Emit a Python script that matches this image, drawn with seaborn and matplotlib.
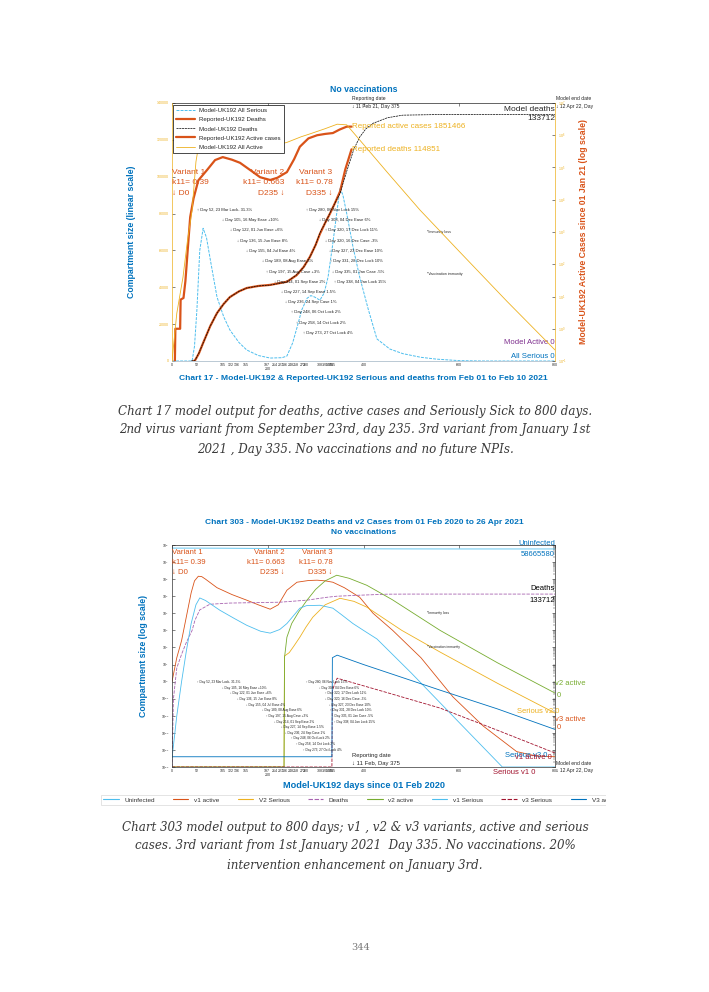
import numpy as np
import pandas as pd
import seaborn as sns
import matplotlib.pyplot as plt
from matplotlib.ticker import LogLocator, NullLocator
from matplotlib.patches import Rectangle
import matplotlib.transforms as mtrans

# ---------------- Chart 17 data (days since 01 Feb 2020) ----------------
serious_day = [0, 42, 47, 52, 58, 65, 72, 80, 94, 108, 121, 140, 156, 180, 205, 230, 240, 252, 262, 271,
               282, 290, 298, 309, 318, 326, 335, 344, 351, 357, 365, 378, 392, 410, 428, 455, 482, 520, 553, 600,
               650, 800]
serious_val = [0, 0, 8000, 27700, 60000, 72000, 67000, 55000, 34700, 24000, 16800, 10000, 6000, 3000, 1600, 1800,
               2700, 9800, 19000, 27700, 34000, 35500, 34700, 33000, 37000, 45600, 62000, 80000, 94000, 90000,
               80000, 62000, 45600, 28000, 12000, 6500, 4000, 2000, 1000, 200, 0, 0]

rep_death_day = [45, 48, 56, 65, 80, 94, 108, 121, 140, 156, 180, 205, 240, 260, 275, 288, 300, 309, 320, 330,
                 340, 351, 362, 375]
rep_death_val = [0, 300, 4000, 9800, 19000, 26000, 31000, 34700, 37800, 39600, 40700, 41300, 43000, 46500, 51000,
                 56500, 63000, 69000, 75000, 80000, 85500, 92000, 104000, 114851]

model_death_day = [40, 48, 56, 65, 80, 94, 108, 121, 140, 156, 180, 205, 240, 260, 275, 288, 300, 309, 320, 330,
                   340, 351, 365, 380, 392, 405, 420, 450, 482, 550, 800]
model_death_val = [0, 400, 4200, 9800, 19000, 26000, 31000, 34700, 37800, 39600, 40700, 41200, 42900, 46700, 51000,
                   56400, 63000, 69500, 75000, 80300, 85500, 91000, 103000, 115000, 121500, 126000, 129000, 132000,
                   133400, 133700, 133712]

rep_active_day = [6, 7, 17, 18, 24, 28, 33, 38, 45, 55, 73, 90, 106, 125, 142, 165, 184, 205, 220, 240, 255,
                  267, 285, 303, 320, 336, 350, 365, 375]
rep_active_val = [0.1, 1, 1, 8, 9, 30, 300, 2900, 11000, 40000, 83000, 170000, 210000, 175000, 140000, 80000, 50000,
                  41000, 48000, 72000, 180000, 440000, 800000, 1000000, 1100000, 1170000, 1500000, 1850000, 1851466]

model_active_day = [0, 10, 23, 32, 42, 50, 60, 80, 110, 160, 205, 240, 270, 288, 320, 345, 365, 400, 450, 518,
                    600, 700, 800]
model_active_val = [0.1, 3, 40, 500, 4800, 150000, 1200000, 2000000, 1600000, 700000, 450000, 600000, 900000,
                    1100000, 1600000, 2200000, 2100000, 520000, 70000, 4800, 250, 7, 0.22]

# ---------------- Chart 303 data (log10 of compartment size) ----------------
uninf_day = [0, 100, 200, 300, 400, 500, 600, 800]
uninf_log = [7.82, 7.815, 7.80, 7.79, 7.775, 7.77, 7.768, 7.768]

v1a_day = [0, 10, 20, 30, 40, 47, 55, 62, 70, 94, 125, 156, 180, 205, 222, 240, 261, 285, 303, 320,
           336, 360, 392, 420, 461, 520, 587, 650, 720, 760, 800]
v1a_log = [0, 1.4, 2.4, 3.8, 5.2, 5.9, 6.17, 6.15, 6.0, 5.5, 5.1, 4.77, 4.5, 4.24, 4.5, 5.35, 5.82, 5.92, 5.94, 5.9,
           5.82, 5.5, 4.94, 4.0, 3.0, 1.4, -0.9, -2.6, -4.1, -4.35, -4.4]

v1s_day = [0, 10, 20, 30, 40, 50, 58, 70, 100, 130, 156, 185, 205, 225, 240, 255, 267, 281, 309, 336,
           355, 378, 400, 428, 500, 600, 690, 800]
v1s_log = [-4.5, -2.0, 0.0, 1.8, 3.4, 4.5, 4.9, 4.75, 4.18, 3.7, 3.3, 2.95, 2.84, 3.05, 3.4, 3.9, 4.3, 4.45, 4.47,
           4.3, 3.9, 3.4, 3.0, 2.5, 0.5, -2.4, -5, -5]

deaths_day = [0, 3, 10, 20, 30, 42, 48, 58, 79, 121, 225, 282, 324, 344, 392, 449, 500, 800]
deaths_log = [-5, -1, 0.8, 1.6, 2.3, 3.0, 3.6, 4.2, 4.53, 4.6, 4.65, 4.77, 4.94, 5.0, 5.06, 5.12, 5.126, 5.126]

v2a_day = [0, 234, 235, 240, 250, 265, 282, 300, 320, 344, 370, 407, 460, 560, 680, 800]
v2a_log = [-5, -5, 1.4, 2.6, 3.4, 4.1, 4.77, 5.4, 5.9, 6.23, 6.05, 5.64, 4.8, 3.0, 1.1, -0.67]

v2s_day = [0, 234, 235, 245, 255, 267, 280, 294, 320, 351, 380, 407, 480, 560, 680, 800]
v2s_log = [-5, -5, 1.5, 1.7, 2.1, 2.6, 3.2, 3.77, 4.5, 4.88, 4.7, 4.36, 3.0, 1.73, -0.1, -1.84]

v3a_day = [0, 334, 335, 345, 400, 480, 560, 680, 800]
v3a_log = [-4.4, -4.4, 1.4, 1.55, 1.0, 0.25, -0.5, -1.6, -2.8]

v3s_day = [0, 334, 335, 345, 450, 560, 680, 800]
v3s_log = [-5, -5, -0.5, 0.2, -0.65, -1.55, -2.85, -4.18]

# ---------------- NPI annotations (shared by both charts) ----------------
npi_day = [52, 105, 122, 136, 155, 189, 197, 214, 227, 236, 248, 258, 273,
           280, 308, 320, 320, 327, 331, 335, 338]
npi_text = ["\u2191 Day 52, 23 Mar Lock- 31.3%", "\u2193 Day 105, 16 May Ease +10%",
            "\u2193 Day 122, 01 Jun Ease +6%", "\u2193 Day 136, 15 Jun Ease 8%",
            "\u2193 Day 155, 04 Jul Ease 4%", "\u2193 Day 189, 08 Aug Ease 6%",
            "\u2191 Day 197, 15 Aug Case +3%", "\u2193 Day 214, 01 Sep Ease 2%",
            "\u2193 Day 227, 14 Sep Ease 1.5%", "\u2193 Day 236, 24 Sep Case 1%",
            "\u2191 Day 248, 06 Oct Lock 2%", "\u2191 Day 258, 14 Oct Lock 2%",
            "\u2191 Day 273, 27 Oct Lock 4%", "\u2191 Day 280, 06 Nov Lock 15%",
            "\u2193 Day 308, 04 Dec Ease 6%", "\u2191 Day 320, 17 Dec Lock 11%",
            "\u2193 Day 320, 16 Dec Case -3%", "\u2193 Day 327, 23 Dec Ease 10%",
            "\u2191 Day 331, 28 Dec Lock 10%", "\u2193 Day 335, 01 Jan Case -5%",
            "\u2191 Day 338, 04 Jan Lock 15%"]
npi_row = [0, 1, 2, 3, 4, 5, 6, 7, 8, 9, 10, 11, 12, 0, 1, 2, 3, 4, 5, 6, 7]
tick_days = [0, 52, 105, 122, 136, 155, 197, 214, 227, 236, 248, 258, 273, 280, 308, 320, 327, 331, 335,
             400, 600, 800]

BLUE, ORANGE, YELLOW = "#0072BD", "#D95319", "#EDB120"
PURPLE, GREEN, CYAN, CRIMSON = "#7E2F8E", "#77AC30", "#4DBEEE", "#A2142F"

sns.set_style("white")
plt.rcParams["font.family"] = ["Liberation Sans", "DejaVu Sans"]
plt.rcParams["axes.linewidth"] = 0.5
plt.rcParams["mathtext.default"] = "regular"

W, H = 709, 992
fig = plt.figure(figsize=(W / 100, H / 100), dpi=100)


def box(l, t, r, b):
    return [l / W, 1 - b / H, (r - l) / W, (b - t) / H]


def draw(ax, x, y, **kw):
    sns.lineplot(x=x, y=y, ax=ax, estimator=None, legend=False, **kw)
    return ax.get_lines()[-1]


def xaxis_style(ax, lab_size):
    ax.set_xlim(0, 800)
    ax.set_xticks(tick_days, [str(d) for d in tick_days])
    ax.set_xticks([200], ["200"], minor=True)
    ax.tick_params(axis="x", which="major", direction="in", length=2.5, width=0.4,
                   labelsize=lab_size, pad=1.2, top=False)
    ax.tick_params(axis="x", which="minor", direction="in", length=2.5, width=0.4,
                   labelsize=lab_size, pad=4.5, top=False)
    sec = ax.secondary_xaxis("top")
    sec.set_xticks([0, 200, 400, 600, 800], ["", "", "", "", ""])
    sec.tick_params(direction="in", length=2.5, width=0.4)
    sec.spines["top"].set_linewidth(0.5)


def npi_labels(ax, y_top, step, size):
    tr = mtrans.blended_transform_factory(ax.transData, ax.transAxes)
    for d, t, r in zip(npi_day, npi_text, npi_row):
        ax.text(d, y_top - r * step, t, transform=tr, fontsize=size, ha="left", va="center",
                color="#222222", zorder=8)


def variant_labels(ax, y0, dy, size):
    tr = mtrans.blended_transform_factory(ax.transData, ax.transAxes)
    for i, (a, b, c) in enumerate([("Variant 1", "Variant 2", "Variant 3"),
                                   ("k11= 0.39", "k11= 0.663", "k11= 0.78"),
                                   ("\u2193 D0", "D235 \u2193", "D335 \u2193")]):
        y = y0 - i * dy
        ax.text(0, y, a, transform=tr, fontsize=size, color=ORANGE, ha="left", va="center")
        ax.text(235, y, b, transform=tr, fontsize=size, color=ORANGE, ha="right", va="center")
        ax.text(335, y, c, transform=tr, fontsize=size, color=ORANGE, ha="right", va="center")


# ======================= Chart 17 =======================
ax1 = fig.add_axes(box(172, 103, 555, 361))
ax1r = ax1.twinx()

h_serious = draw(ax1, serious_day, serious_val, color=CYAN, linewidth=0.7, linestyle=(0, (3, 1.2)))
h_rdeath = draw(ax1, rep_death_day, rep_death_val, color=ORANGE, linewidth=1.6)
h_mdeath = draw(ax1, model_death_day, model_death_val, color="black", linewidth=0.5, linestyle=(0, (3, 1)))
ax1r.set_yscale("log")
h_ractive = draw(ax1r, rep_active_day, rep_active_val, color=ORANGE, linewidth=1.6)
h_mactive = draw(ax1r, model_active_day, model_active_val, color=YELLOW, linewidth=0.6)

ax1.set_ylim(0, 140000)
ax1.set_yticks(range(0, 140001, 20000))
ax1r.set_ylim(0.1, 1e7)
ax1r.yaxis.set_major_locator(LogLocator(base=10, numticks=12))
ax1r.yaxis.set_minor_locator(NullLocator())
xaxis_style(ax1, 2.6)
ax1.tick_params(axis="y", direction="in", length=2.5, width=0.4, labelsize=2.6, labelcolor=YELLOW, pad=2)
ax1r.tick_params(axis="y", direction="in", length=2.5, width=0.4, labelsize=2.6, labelcolor=YELLOW, pad=2)
ax1.spines["left"].set_color(YELLOW)
ax1.spines["bottom"].set_color("#9fb4c4")
ax1.spines["right"].set_visible(False)
ax1.spines["top"].set_visible(False)
for s in ["left", "top", "bottom"]:
    ax1r.spines[s].set_visible(False)
ax1r.spines["right"].set_color(YELLOW)

ax1.set_xlabel("Chart 17 - Model-UK192 & Reported-UK192 Serious and deaths from Feb 01 to Feb 10 2021",
               fontsize=6.1, fontweight="bold", color=BLUE)
ax1.xaxis.set_label_coords(0.5, -0.056)
ax1.set_ylabel("Compartment size (linear scale)", fontsize=6.3, fontweight="bold", color=BLUE)
ax1.yaxis.set_label_coords(-0.095, 0.5)
ax1r.set_ylabel("Model-UK192 Active Cases since 01 Jan 21 (log scale)", fontsize=6.3,
                fontweight="bold", color=ORANGE)
ax1r.yaxis.set_label_coords(1.062, 0.5)
fig.text(364 / W, 1 - 90 / H, "No vaccinations", ha="center", va="center", fontsize=6.3,
         fontweight="bold", color=BLUE)

leg = ax1r.legend([h_serious, h_rdeath, h_mdeath, h_ractive, h_mactive],
                  ["Model-UK192 All Serious", "Reported-UK192 Deaths", "Model-UK192 Deaths",
                   "Reported-UK192 Active cases", "Model-UK192 All Active"],
                  loc="upper left", bbox_to_anchor=(0.003, 0.992), borderaxespad=0, fontsize=4.4,
                  handlelength=3.0, labelspacing=0.62, borderpad=0.5, fancybox=False,
                  edgecolor="black", framealpha=1)
leg.get_frame().set_linewidth(0.5)
leg.set_zorder(20)

variant_labels(ax1, 0.729, 0.039, 6.0)
npi_labels(ax1, (361 - 210) / 258, 10.25 / 258, 3.0)

ax1.text(1.0, 0.973, "Model deaths", transform=ax1.transAxes, ha="right", va="center", fontsize=6.0)
ax1.text(1.0, 0.938, "133712", transform=ax1.transAxes, ha="right", va="center", fontsize=6.0)
ax1r.text(375, 1851466, "Reported active cases 1851466", ha="left", va="center", fontsize=5.8, color=YELLOW)
ax1.text(375, 114851, "Reported deaths 114851", ha="left", va="center", fontsize=5.8, color=YELLOW)
ax1.text(1.0, 0.07, "Model Active 0", transform=ax1.transAxes, ha="right", va="center", fontsize=5.6,
         color=PURPLE)
ax1.text(1.0, 0.019, "All Serious 0", transform=ax1.transAxes, ha="right", va="center", fontsize=5.6,
         color=BLUE)
ax1.text(0.666, 0.5, "*Immunity loss", transform=ax1.transAxes, fontsize=2.6, va="center")
ax1.text(0.666, 0.337, "*Vaccination immunity", transform=ax1.transAxes, fontsize=2.6, va="center")
tr1 = mtrans.blended_transform_factory(ax1.transData, ax1.transAxes)
ax1.text(375, 1.016, "Reporting date", transform=tr1, fontsize=3.6, va="center", clip_on=False)
ax1.text(375, 0.985, "\u2193 11 Feb 21, Day 375", transform=tr1, fontsize=3.6, va="center", clip_on=False)
ax1.text(1.003, 1.016, "Model end date", transform=ax1.transAxes, fontsize=3.6, va="center")
ax1.text(1.003, 0.985, "\u2193 12 Apr 22, Day", transform=ax1.transAxes, fontsize=3.6, va="center")

# ======================= Chart 303 =======================
ax2 = fig.add_axes(box(172, 545, 555, 767))
ax2.set_yscale("log")
series303 = [("Uninfected", uninf_day, uninf_log, CYAN, "-"),
             ("v1 active", v1a_day, v1a_log, ORANGE, "-"),
             ("V2 Serious", v2s_day, v2s_log, YELLOW, "-"),
             ("Deaths", deaths_day, deaths_log, "#a863b0", (0, (4, 1.5))),
             ("v2 active", v2a_day, v2a_log, GREEN, "-"),
             ("v1 Serious", v1s_day, v1s_log, CYAN, "-"),
             ("v3 Serious", v3s_day, v3s_log, CRIMSON, (0, (4, 1.5))),
             ("V3 active", v3a_day, v3a_log, BLUE, "-")]
handles303 = []
for name, d, lg, col, ls in series303:
    df = pd.DataFrame({"day": d, "size": 10.0 ** np.array(lg)})
    handles303.append(draw(ax2, df["day"], df["size"], color=col, linewidth=0.6, linestyle=ls))
ax2.set_ylim(1e-5, 1e8)
ax2.yaxis.set_major_locator(LogLocator(base=10, numticks=20))
ax2.yaxis.set_minor_locator(LogLocator(base=10, subs=np.arange(2, 10), numticks=20))
xaxis_style(ax2, 2.6)
ax2.tick_params(axis="y", which="major", direction="in", length=2.5, width=0.4, labelsize=2.4,
                left=True, right=True, pad=2)
ax2.tick_params(axis="y", which="minor", direction="in", length=1.5, width=0.3, left=False, right=True)
for s in ax2.spines.values():
    s.set_color("#333333")
ax2.spines["top"].set_visible(False)

ax2.set_xlabel("Model-UK192 days since 01 Feb 2020", fontsize=6.6, fontweight="bold", color=BLUE)
ax2.xaxis.set_label_coords(0.5, -0.062)
ax2.set_ylabel("Compartment size (log scale)", fontsize=6.3, fontweight="bold", color=BLUE)
ax2.yaxis.set_label_coords(-0.062, 0.5)
fig.text(364 / W, 1 - 522 / H, "Chart 303 - Model-UK192 Deaths and v2 Cases from 01 Feb 2020 to 26 Apr 2021",
         ha="center", va="center", fontsize=6.0, fontweight="bold", color=BLUE)
fig.text(364 / W, 1 - 533 / H, "No vaccinations", ha="center", va="center", fontsize=6.0,
         fontweight="bold", color=BLUE)

variant_labels(ax2, 0.968, 0.045, 5.6)
npi_labels(ax2, (767 - 682) / 222, 5.65 / 222, 2.3)

right_labels = [(1.0, 1.009, "Uninfected", BLUE, "right"), (1.0, 0.959, "58665580", BLUE, "right"),
                (1.0, 0.802, "Deaths", "black", "right"), (1.0, 0.752, "133712", "black", "right"),
                (1.0, 0.374, "v2 active", GREEN, "left"), (1.005, 0.324, "0", GREEN, "left"),
                (0.901, 0.248, "Serious v2 0", YELLOW, "left"),
                (1.0, 0.216, "v3 active", ORANGE, "left"), (1.005, 0.176, "0", ORANGE, "left"),
                (0.869, 0.054, "Serious v3 0", BLUE, "left"),
                (0.896, 0.045, "v1 active 0", CRIMSON, "left"),
                (0.838, -0.027, "Serious v1 0", CRIMSON, "left")]
for x, y, t, c, ha in right_labels:
    ax2.text(x, y, t, transform=ax2.transAxes, ha=ha, va="center", fontsize=5.5, color=c, clip_on=False)
ax2.text(0.666, 0.694, "*Immunity loss", transform=ax2.transAxes, fontsize=2.4, va="center")
ax2.text(0.666, 0.54, "*Vaccination immunity", transform=ax2.transAxes, fontsize=2.4, va="center")
tr2 = mtrans.blended_transform_factory(ax2.transData, ax2.transAxes)
ax2.text(375, 0.054, "Reporting date", transform=tr2, fontsize=4.2, va="center")
ax2.text(375, 0.018, "\u2193 11 Feb, Day 375", transform=tr2, fontsize=4.2, va="center")
ax2.text(1.003, 0.018, "Model end date", transform=ax2.transAxes, fontsize=3.6, va="center")
ax2.text(1.003, -0.018, "\u2193 12 Apr 22, Day", transform=ax2.transAxes, fontsize=3.6, va="center")

leg2 = fig.legend(handles303, [s[0] for s in series303], loc="upper left",
                  bbox_to_anchor=(101 / W, 1 - 795 / H), ncol=8, fontsize=4.6, frameon=True,
                  fancybox=False, edgecolor="#d8d8d8", handlelength=2.4, handletextpad=0.9,
                  columnspacing=2.85, borderpad=0.35, borderaxespad=0)
leg2.get_frame().set_linewidth(0.6)
for t in leg2.get_texts():
    t.set_color("#333333")
for ln in leg2.get_lines():
    ln.set_linewidth(0.8)
fig.add_artist(Rectangle((606 / W, 1 - 815 / H), 0.2, 25 / H, transform=fig.transFigure,
                         facecolor="white", edgecolor="none", zorder=30))

# ---------------- captions and page number ----------------
cap1 = ["Chart 17 model output for deaths, active cases and Seriously Sick to 800 days.",
        "2nd virus variant from September 23rd, day 235. 3rd variant from January 1st",
        "2021 , Day 335. No vaccinations and no future NPIs."]
cap2 = ["Chart 303 model output to 800 days; v1 , v2 & v3 variants, active and serious",
        "cases. 3rd variant from 1st January 2021  Day 335. No vaccinations. 20%",
        "intervention enhancement on January 3rd."]
for lines, ys in [(cap1, [411, 430, 449]), (cap2, [828, 846, 865])]:
    for t, y in zip(lines, ys):
        fig.text(355 / W, 1 - y / H, t, ha="center", va="center", fontsize=8.6, style="italic",
                 family="DejaVu Serif", color="#3a3a3a")
fig.text(361 / W, 1 - 948 / H, "344", ha="center", va="center", fontsize=7, family="DejaVu Serif",
         color="#777777")

fig.savefig("out.png", dpi=100)
